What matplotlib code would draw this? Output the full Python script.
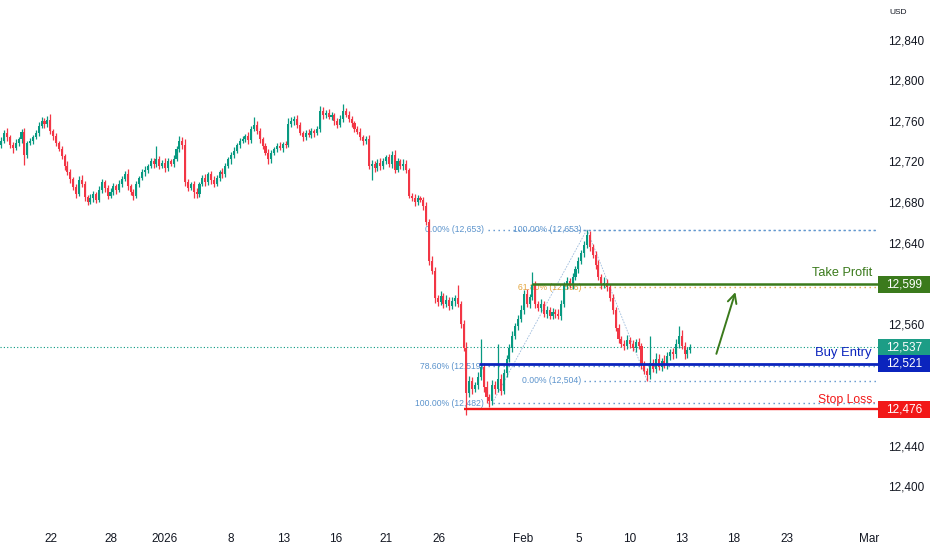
import numpy as np
import matplotlib.pyplot as plt
from matplotlib.patches import Rectangle

plt.rcParams['font.family'] = ['Liberation Sans', 'DejaVu Sans']

# 4h candles, Dec 17 .. Feb 13
first_open = 12736
closes = [
    12740, 12748, 12744, 12736, 12733, 12738, 12742, 12749, 12726, 12738, 12740, 12744,
    12748, 12755, 12760, 12757, 12761, 12750, 12745, 12738, 12732, 12725, 12716, 12710,
    12703, 12695, 12688, 12702, 12698, 12685, 12680, 12684, 12688, 12682, 12692, 12700,
    12694, 12686, 12690, 12696, 12692, 12698, 12703, 12708, 12696, 12690, 12686, 12698,
    12704, 12710, 12712, 12716, 12720, 12718, 12722, 12716, 12719, 12714, 12720, 12718,
    12722, 12732, 12740, 12736, 12700, 12694, 12698, 12690, 12688, 12698, 12704, 12700,
    12708, 12702, 12698, 12704, 12710, 12708, 12716, 12722, 12726, 12730, 12736, 12740,
    12742, 12745, 12741, 12752, 12756, 12750, 12742, 12735, 12728, 12722, 12728, 12732,
    12735, 12733, 12737, 12736, 12757, 12760, 12762, 12756, 12748, 12744, 12748, 12746,
    12750, 12748, 12752, 12770, 12766, 12768, 12764, 12766, 12760, 12756, 12762, 12770,
    12766, 12762, 12758, 12752, 12749, 12744, 12740, 12742, 12716, 12718, 12714, 12719,
    12716, 12720, 12724, 12718, 12726, 12712, 12720, 12716, 12718, 12712, 12686, 12684,
    12680, 12684, 12682, 12676, 12660, 12622, 12612, 12586, 12582, 12588, 12580, 12584,
    12578, 12583, 12586, 12580, 12560, 12536, 12492, 12504, 12496, 12500, 12508, 12518,
    12498, 12488, 12484, 12500, 12496, 12506, 12494, 12512, 12526, 12536, 12548, 12558,
    12565, 12574, 12590, 12580, 12587, 12598, 12580, 12576, 12580, 12570, 12574, 12568,
    12572, 12570, 12568, 12580, 12598, 12602, 12598, 12606, 12614, 12622, 12630, 12638,
    12648, 12636, 12628, 12618, 12606, 12598, 12600, 12596, 12586, 12574, 12556, 12545,
    12540, 12538, 12544, 12540, 12536, 12542, 12538, 12520, 12514, 12510, 12522, 12516,
    12526, 12518, 12524, 12520, 12528, 12532, 12530, 12540, 12548, 12538, 12530, 12534,
    12537]
wick_up = [
    4, 3, 5, 2, 3, 4, 2, 3, 4, 2, 3, 2,
    3, 4, 4, 3, 4, 6, 2, 3, 2, 3, 2, 4,
    3, 2, 3, 4, 5, 3, 2, 4, 3, 2, 4, 3,
    2, 3, 4, 3, 2, 4, 3, 3, 5, 2, 3, 3,
    2, 3, 4, 2, 3, 3, 13, 3, 2, 4, 3, 2,
    4, 3, 5, 4, 6, 3, 2, 3, 4, 2, 3, 4,
    2, 3, 4, 3, 2, 4, 3, 2, 3, 4, 2, 3,
    3, 2, 4, 3, 8, 4, 3, 2, 3, 4, 3, 2,
    3, 4, 2, 3, 6, 4, 3, 4, 3, 2, 3, 4,
    3, 2, 3, 5, 4, 3, 4, 3, 2, 3, 4, 7,
    3, 4, 3, 2, 3, 4, 2, 3, 4, 3, 2, 3,
    4, 3, 2, 3, 4, 5, 3, 2, 4, 3, 2, 3,
    4, 3, 2, 3, 4, 3, 5, 4, 3, 4, 3, 5,
    3, 4, 3, 12, 3, 4, 6, 5, 4, 3, 5, 27,
    4, 6, 3, 5, 4, 34, 5, 4, 3, 4, 5, 3,
    4, 5, 3, 4, 3, 13, 4, 3, 5, 3, 4, 3,
    4, 3, 5, 4, 3, 4, 3, 4, 3, 4, 3, 4,
    5, 4, 3, 4, 5, 3, 6, 4, 3, 4, 3, 4,
    3, 4, 5, 3, 4, 3, 4, 3, 4, 3, 26, 4,
    5, 4, 3, 5, 4, 3, 4, 5, 10, 6, 4, 3,
    3]
wick_dn = [
    3, 2, 4, 3, 5, 2, 3, 4, 9, 3, 2, 3,
    2, 3, 2, 4, 3, 3, 4, 3, 2, 3, 4, 3,
    4, 3, 4, 2, 3, 4, 3, 2, 4, 3, 2, 3,
    4, 3, 2, 3, 4, 2, 3, 2, 4, 3, 4, 2,
    3, 2, 4, 3, 2, 4, 3, 3, 2, 4, 3, 2,
    3, 2, 3, 4, 4, 3, 2, 6, 4, 3, 2, 4,
    3, 4, 3, 2, 3, 4, 3, 2, 4, 3, 2, 3,
    2, 3, 4, 3, 2, 3, 4, 3, 2, 4, 3, 2,
    3, 2, 4, 3, 2, 3, 4, 3, 2, 4, 3, 2,
    3, 4, 2, 3, 4, 3, 2, 3, 4, 3, 2, 3,
    2, 3, 4, 3, 2, 3, 4, 3, 3, 14, 4, 3,
    4, 3, 2, 3, 4, 3, 2, 3, 4, 3, 2, 3,
    4, 3, 2, 4, 3, 4, 3, 5, 4, 3, 4, 3,
    4, 3, 5, 3, 4, 3, 22, 4, 5, 3, 4, 3,
    5, 6, 6, 4, 5, 3, 4, 3, 4, 3, 4, 3,
    4, 3, 4, 3, 4, 3, 4, 3, 4, 3, 4, 3,
    3, 4, 3, 4, 3, 4, 3, 4, 3, 4, 3, 4,
    3, 4, 3, 4, 3, 4, 3, 4, 3, 4, 3, 4,
    3, 4, 3, 4, 3, 4, 3, 4, 3, 6, 4, 3,
    4, 3, 4, 3, 4, 3, 4, 3, 4, 3, 4, 3,
    3]

date_labels = ['22', '28', '2026', '8', '13', '16', '21', '26', 'Feb', '5', '10', '13', '18', '23', 'Mar']
date_pos = [17.4, 38.3, 56.8, 79.8, 98.3, 116.4, 134.1, 152.6, 181.9, 201.0, 218.8, 236.9, 255.0, 273.5, 302.4]

last_price = 12537
take_profit, tp_start = 12599, 185
buy_entry, be_start = 12521, 166.5
stop_loss, sl_start = 12476, 161

# fib 1: swing up (100% at the low), fib 2: pullback (0% at the low)
fib1_low, fib1_high, fib1_x = 12482, 12653, (171, 204)
fib1_levels = [0.0, 0.786, 1.0]
fib2_high, fib2_low, fib2_x = 12653, 12504, (204, 225)
fib2_levels = [1.0, 0.618, 0.0]

arrow_from = (248.8, 12528)
arrow_to = (256.0, 12594)

GREEN = '#089981'
RED = '#f23645'
TP_COL = '#3b7a1c'
BE_COL = '#0b24bd'
SL_COL = '#f21818'
FIB_COL = '#5b93cc'
FIB_ORANGE = '#e3a43a'

fig = plt.figure(figsize=(9.32, 5.5), dpi=100)
ax = fig.add_axes([0, 30 / 550, 878 / 932, 520 / 550])
ax.set_xlim(-0.5, 305.4)
ax.set_ylim(12367, 12879)

c = np.array(closes)
o = np.array([first_open] + closes[:-1])
idx = np.arange(len(c))
hi = np.maximum(o, c) + np.array(wick_up)
lo = np.minimum(o, c) - np.array(wick_dn)
cols = np.where(c >= o, GREEN, RED)
ax.vlines(idx, lo, hi, colors=cols, lw=0.9, zorder=2)
ax.bar(idx, np.maximum(np.abs(c - o), 1.0), bottom=np.minimum(o, c), width=0.72,
       color=cols, lw=0, zorder=2)

dots = (0, (1, 2.6))
right = ax.get_xlim()[1]

# fib retracements
rng1 = fib1_high - fib1_low
for lv in fib1_levels:
    p = fib1_high - lv * rng1
    ax.hlines(p, fib1_x[0] - 1.5, right, colors=FIB_COL, lw=1, linestyles=dots, zorder=1)
    ax.text(fib1_x[0] - 3, p, f'{lv * 100:.2f}% ({round(p):,})', color=FIB_COL,
            fontsize=6.2, ha='right', va='center', zorder=1)
ax.plot(fib1_x, [fib1_low, fib1_high], color='#9dbbdc', lw=0.6, ls=(0, (2, 1.5)), zorder=1)

rng2 = fib2_high - fib2_low
for lv in fib2_levels:
    p = fib2_low + lv * rng2
    col = FIB_ORANGE if lv == 0.618 else FIB_COL
    ax.hlines(p, fib2_x[0] - 1, right, colors=col, lw=1, linestyles=dots, zorder=1)
    ax.text(fib2_x[0] - 2, p, f'{lv * 100:.2f}% ({round(p):,})', color=col,
            fontsize=6.2, ha='right', va='center', zorder=1)
ax.plot(fib2_x, [fib2_high, fib2_low], color='#9dbbdc', lw=0.6, ls=(0, (2, 1.5)), zorder=1)

# current price
ax.axhline(last_price, color=GREEN, lw=0.8, ls=(0, (1, 2)), zorder=1)

# trade levels
ax.hlines(take_profit, tp_start, right, colors=TP_COL, lw=1.8, zorder=3)
ax.hlines(buy_entry, be_start, right, colors=BE_COL, lw=2.0, zorder=3)
ax.hlines(stop_loss, sl_start, right, colors=SL_COL, lw=1.7, zorder=3)

bt = ax.get_yaxis_transform()
ax.text(0.994, take_profit + 11, 'Take Profit', color=TP_COL, fontsize=9.2, ha='right', va='center', transform=bt)
ax.text(0.993, buy_entry + 10, 'Buy Entry', color=BE_COL, fontsize=9.4, ha='right', va='center', transform=bt)
ax.text(0.998, stop_loss + 9, 'Stop Loss.', color=SL_COL, fontsize=8.8, ha='right', va='center', transform=bt)

ax.annotate('', xy=arrow_to, xytext=arrow_from,
            arrowprops=dict(arrowstyle='->', color=TP_COL, lw=1.4, mutation_scale=16), zorder=4)

# axes styling
for s in ax.spines.values():
    s.set_visible(False)
ax.yaxis.tick_right()
yt = np.arange(12400, 12841, 40)
hidden = {take_profit // 40 * 40 + 40, 12520, 12480}  # ticks covered by the price tags
ax.set_yticks(yt)
ax.set_yticklabels(['' if v in hidden else f'{v:,}' for v in yt])
ax.set_xticks(date_pos)
ax.set_xticklabels(date_labels)
ax.tick_params(axis='y', length=0, pad=7, labelsize=8.5, labelcolor='#131722')
ax.tick_params(axis='x', length=0, pad=9, labelsize=8.5, labelcolor='#131722')

# price tags on the axis
box_h = 16.5
for price, col in [(take_profit, TP_COL), (last_price, '#1c9d86'),
                   (buy_entry, BE_COL), (stop_loss, SL_COL)]:
    ax.add_patch(Rectangle((1.0, price - box_h / 2), 52 / 878, box_h, transform=bt,
                           facecolor=col, edgecolor='none', clip_on=False, zorder=5))
    ax.text(1.0 + 26 / 878, price, f'{price:,}', color='white', fontsize=8.5,
            ha='center', va='center', transform=bt, clip_on=False, zorder=6)

fig.text(898 / 932, 1 - 12 / 550, 'USD', fontsize=6, ha='center', va='center', color='#131722')

fig.savefig('out.png', dpi=100)
